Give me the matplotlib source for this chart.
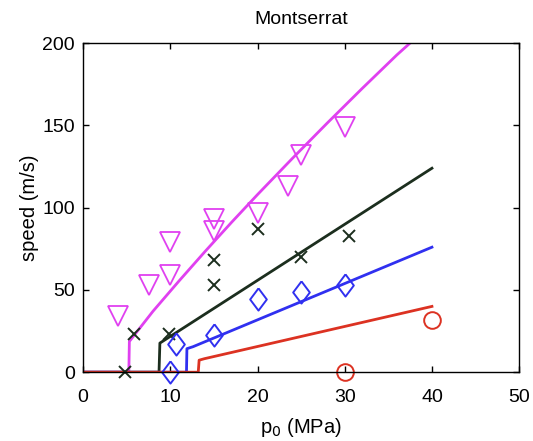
import numpy as np
import matplotlib
matplotlib.use("Agg")
import matplotlib.pyplot as plt

plt.rcParams['font.family'] = ['Liberation Sans', 'DejaVu Sans']

# model curves (p0 in MPa, speed in m/s)
mag_x = [0, 5.24, 5.3, 8, 11, 14, 17, 20, 24, 28, 32, 36, 40]
mag_y = [0, 0, 18.7, 37, 55.5, 73.5, 91, 108, 130, 151.5, 172.5, 193, 212]
blk_x = [0, 8.7, 8.8, 40]
blk_y = [0, 0, 17.7, 124]
blu_x = [0, 11.85, 11.9, 12.6, 40]
blu_y = [0, 0, 14.3, 15.5, 76]
red_x = [0, 13.2, 13.3, 13.9, 40]
red_y = [0, 0, 7.3, 8.2, 40]

# observations
tri_x = [4, 7.5, 10, 10, 15, 15, 20, 23.5, 25, 30]
tri_y = [34, 53, 59, 79, 93, 86, 97, 113, 132, 149]
crs_x = [4.8, 5.8, 9.8, 15, 15, 20, 25, 30.5]
crs_y = [0, 23, 23, 68, 53, 87, 70, 83]
dia_x = [10, 10.7, 15, 20, 25, 30]
dia_y = [0, 17, 22.5, 44.5, 48.5, 53]
cir_x = [30, 40]
cir_y = [0, 32]

c_mag = '#e040f0'
c_blk = '#1c2e1e'
c_blu = '#3030f0'
c_red = '#dc3222'

diamond = [(0, 1), (0.75, 0), (0, -1), (-0.75, 0), (0, 1)]

fig = plt.figure(figsize=(5.33, 4.41), dpi=100)
ax = fig.add_axes([0.156, 0.156, 0.818, 0.746])

lw = 2.0
ax.plot(mag_x, mag_y, color=c_mag, lw=lw)
ax.plot(blk_x, blk_y, color=c_blk, lw=lw)
ax.plot(blu_x, blu_y, color=c_blu, lw=lw)
ax.plot(red_x, red_y, color=c_red, lw=lw)

ax.plot(tri_x, tri_y, 'v', ms=14, mfc='none', mec=c_mag, mew=1.3, clip_on=False)
ax.plot(crs_x, crs_y, 'x', ms=9, mec=c_blk, mew=1.4, clip_on=False)
ax.plot(dia_x, dia_y, marker=diamond, ls='none', ms=16, mfc='none', mec=c_blu, mew=1.4, clip_on=False)
ax.plot(cir_x, cir_y, 'o', ms=12, mfc='none', mec=c_red, mew=1.4, clip_on=False)

ax.set_xlim(0, 50)
ax.set_ylim(0, 200)
ax.set_xticks([0, 10, 20, 30, 40, 50])
ax.set_yticks([0, 50, 100, 150, 200])
ax.tick_params(direction='in', top=True, right=True, length=4, width=1,
               labelsize=14)
ax.tick_params(axis='x', pad=12)
ax.tick_params(axis='y', pad=6)
for s in ax.spines.values():
    s.set_linewidth(1.0)

ax.set_xlabel('p$_0$ (MPa)', fontsize=14.5, labelpad=7)
ax.set_ylabel('speed (m/s)', fontsize=14.5, labelpad=2)
ax.set_title('Montserrat', fontsize=14, pad=14)

fig.savefig('out.png', dpi=100)
